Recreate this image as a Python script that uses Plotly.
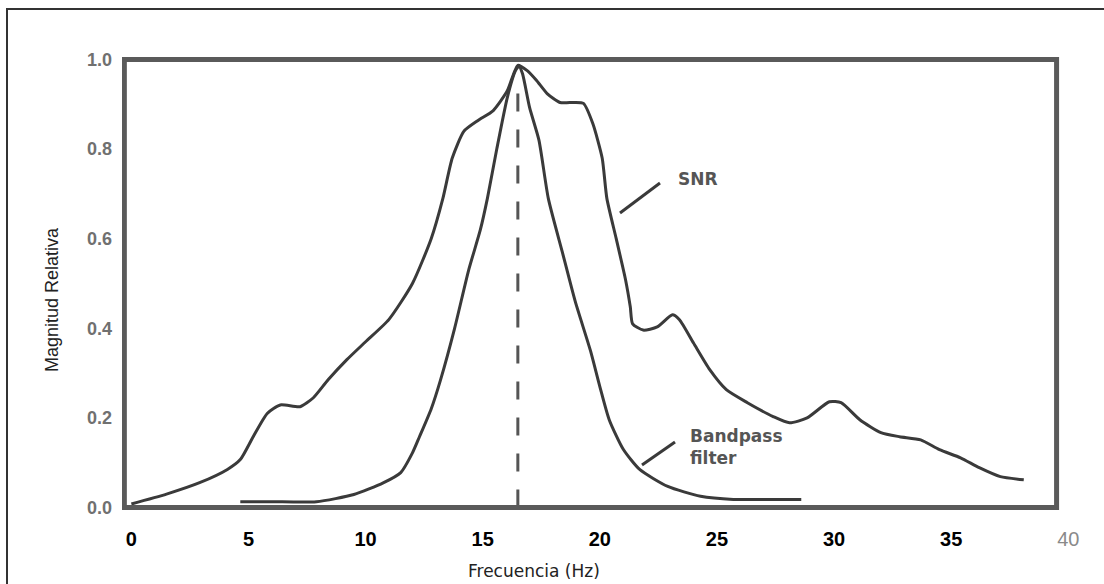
import plotly.graph_objects as go

# ---- data ----
snr_freq = [0, 1.5, 2.94, 4.1, 4.65, 5.2, 5.8, 6.36, 7.2, 7.77, 8.4, 9.2, 10, 11, 12, 12.8,
            13.3, 13.7, 14.2, 14.8, 15.45, 16.05, 16.5, 16.9, 17.3, 17.75, 18.3, 18.9, 19.3,
            19.7, 20.1, 20.3, 20.7, 21.1, 21.3, 21.4, 21.85, 22.45, 23.1, 23.4, 24.0, 24.7,
            25.4, 26.3, 27.4, 28.1, 28.85, 29.8, 30.3, 31.1, 32.0, 32.8, 33.7, 34.5, 35.4,
            36.2, 37.1, 38.1]
snr_mag = [0.008, 0.03, 0.056, 0.085, 0.107, 0.158, 0.21, 0.229, 0.225, 0.245, 0.285, 0.33,
           0.37, 0.42, 0.5, 0.6, 0.69, 0.78, 0.84, 0.864, 0.886, 0.93, 0.987, 0.975, 0.953,
           0.924, 0.904, 0.904, 0.902, 0.857, 0.78, 0.69, 0.6, 0.508, 0.448, 0.41, 0.396,
           0.403, 0.43, 0.419, 0.367, 0.307, 0.263, 0.234, 0.203, 0.189, 0.2, 0.236, 0.234,
           0.196, 0.167, 0.158, 0.151, 0.129, 0.111, 0.089, 0.069, 0.062]

bp_freq = [4.65, 6, 7.9, 9.5, 10.75, 11.5, 12.0, 12.3, 12.8, 13.2, 13.8, 14.4, 14.9, 15.2,
           15.6, 16.05, 16.4, 16.55, 16.7, 17.0, 17.4, 17.8, 18.4, 18.95, 19.6, 20.0, 20.4,
           21.0, 21.7, 22.9, 24.3, 25.7, 27.1, 28.6]
bp_mag = [0.013, 0.013, 0.013, 0.029, 0.055, 0.078, 0.122, 0.158, 0.22, 0.285, 0.40, 0.53,
          0.62, 0.69, 0.80, 0.915, 0.975, 0.985, 0.968, 0.893, 0.82, 0.69, 0.57, 0.46, 0.35,
          0.27, 0.196, 0.13, 0.085, 0.047, 0.025, 0.018, 0.018, 0.018]

peak_freq = 16.5
peak_line_mag = [0, 0.96]

x_ticks = [0, 5, 10, 15, 20, 25, 30, 35, 40]
x_tick_labels = ["0", "5", "10", "15", "20", "25", "30", "35", "40"]
y_ticks = [0.0, 0.2, 0.4, 0.6, 0.8, 1.0]
y_tick_labels = ["0.0", "0.2", "0.4", "0.6", "0.8", "1.0"]

# ---- layout geometry ----
W, H = 1104, 584
ML, MR, MT, MB = 122, 24, 55, 72
PW, PH = W - ML - MR, H - MT - MB


def px_x(px):
    return (px - ML) / PW


def px_y(py):
    return (H - MB - py) / PH


line_col = "#3a3a3a"
box_col = "#5a5a5a"
SANS = "Liberation Sans, Arial, sans-serif"
WIDE = "DejaVu Sans, Verdana, sans-serif"

fig = go.Figure()
fig.add_trace(go.Scatter(x=snr_freq, y=snr_mag, mode="lines",
                         line=dict(color=line_col, width=3, shape="spline", smoothing=0.6),
                         hoverinfo="skip", showlegend=False))
fig.add_trace(go.Scatter(x=bp_freq, y=bp_mag, mode="lines",
                         line=dict(color=line_col, width=3, shape="spline", smoothing=0.6),
                         hoverinfo="skip", showlegend=False))
fig.add_trace(go.Scatter(x=[peak_freq, peak_freq], y=peak_line_mag, mode="lines",
                         line=dict(color="#555555", width=3, dash="18px,18px"),
                         hoverinfo="skip", showlegend=False))

shapes = [
    # plot box
    dict(type="rect", xref="x", yref="y", x0=-0.3, x1=39.5, y0=0, y1=1,
         line=dict(color=box_col, width=5), layer="above"),
    # outer frame
    dict(type="rect", xref="paper", yref="paper", x0=px_x(7), x1=px_x(1115),
         y0=px_y(600), y1=px_y(9), line=dict(color="#333333", width=2)),
    # leader lines
    dict(type="line", xref="paper", yref="paper", x0=px_x(620), y0=px_y(213),
         x1=px_x(660), y1=px_y(183), line=dict(color=line_col, width=3)),
    dict(type="line", xref="paper", yref="paper", x0=px_x(642), y0=px_y(465),
         x1=px_x(675), y1=px_y(442), line=dict(color=line_col, width=3)),
]

tick_text = []
for lab in x_tick_labels:
    if lab == "40":
        tick_text.append("<span style='color:#8a8a8a'>40</span>")
    else:
        tick_text.append("<b>" + lab + "</b>")

annotations = [
    dict(text="Magnitud Relativa", x=px_x(52), y=px_y(300), xref="paper", yref="paper",
         xanchor="center", yanchor="middle",
         showarrow=False, textangle=-90, font=dict(family=SANS, size=18, color="#222222")),
    dict(text="Frecuencia (Hz)", x=px_x(534), y=px_y(571), xref="paper", yref="paper",
         xanchor="center", yanchor="middle",
         showarrow=False, font=dict(family=WIDE, size=17, color="#222222")),
    dict(text="<b>SNR</b>", x=px_x(676), y=px_y(179), xref="paper", yref="paper",
         xanchor="left", yanchor="middle", showarrow=False,
         font=dict(family=WIDE, size=17, color="#555555")),
    dict(text="<b>Bandpass<br>filter</b>", x=px_x(688), y=px_y(447), xref="paper",
         yref="paper", xanchor="left", yanchor="middle", align="left", showarrow=False,
         font=dict(family=WIDE, size=17, color="#555555")),
]

fig.update_layout(
    width=W, height=H,
    margin=dict(l=ML, r=MR, t=MT, b=MB, pad=0),
    paper_bgcolor="white", plot_bgcolor="white",
    shapes=shapes, annotations=annotations,
    xaxis=dict(range=[-0.4, 40.5], showgrid=False, zeroline=False, showline=False,
               tickvals=x_ticks, ticktext=tick_text, ticks="", ticklabelstandoff=13,
               tickfont=dict(family=SANS, size=20, color="#000000")),
    yaxis=dict(range=[-0.01, 1.01], showgrid=False, zeroline=False, showline=False,
               tickvals=y_ticks, ticktext=["<b>" + t + "</b>" for t in y_tick_labels],
               ticks="", ticklabelstandoff=9,
               tickfont=dict(family=SANS, size=18, color="#707070")),
)

fig.write_html("out.html")
